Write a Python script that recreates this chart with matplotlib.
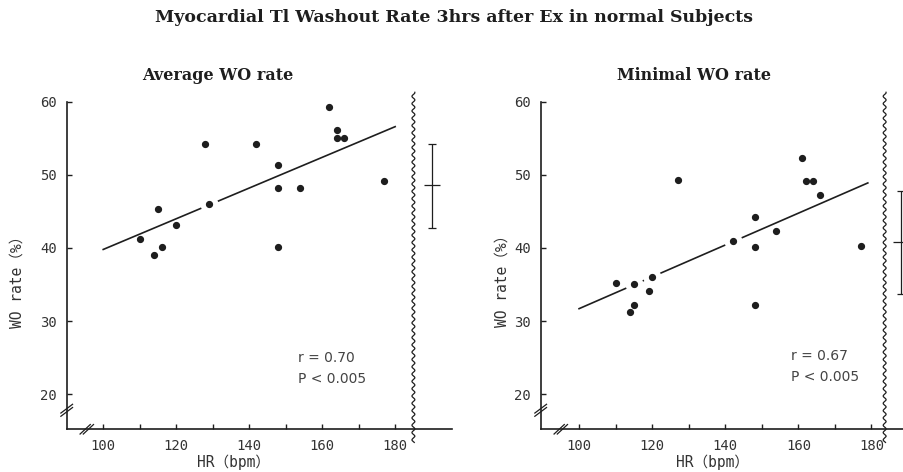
import numpy as np
import matplotlib
matplotlib.use("Agg")
import matplotlib.pyplot as plt

# ---------------- data ----------------
avg_hr = [110, 114, 115, 116, 120, 128, 129, 142, 148, 148, 148, 154, 162, 164, 164, 166, 177]
avg_wo = [41.2, 39.1, 45.3, 40.1, 43.2, 54.2, 46.0, 54.2, 51.3, 48.2, 40.2, 48.2, 59.3, 56.1, 55.1, 55.1, 49.1]
avg_fit_hr = [100, 180]
avg_fit_wo = [39.8, 56.6]
avg_stats = [48.6, 54.2, 42.7]  # mean, upper, lower

min_hr = [110, 114, 115, 115, 119, 120, 127, 142, 148, 148, 148, 154, 161, 162, 164, 166, 177]
min_wo = [35.2, 31.2, 32.2, 35.1, 34.1, 36.1, 49.3, 40.9, 44.2, 40.2, 32.2, 42.3, 52.3, 49.1, 49.1, 47.2, 40.3]
min_fit_hr = [100, 179]
min_fit_wo = [31.7, 48.9]
min_stats = [40.8, 47.8, 33.7]

x_major = [100, 120, 140, 160, 180]
x_minor = [110, 130, 150, 170]
y_ticks = [20, 30, 40, 50, 60]

title = "Myocardial Tl Washout Rate 3hrs after Ex in normal Subjects"
panel_titles = ["Average WO rate", "Minimal WO rate"]
stat_texts = [["r = 0.70", "P < 0.005"], ["r = 0.67", "P < 0.005"]]

INK = "#1e1e1e"
MONO = ["DejaVu Sans Mono", "Noto Sans CJK JP"]
SANS = ["DejaVu Sans", "Noto Sans CJK JP"]

fig = plt.figure(figsize=(9.04, 4.72), dpi=100)


def draw_panel(rect, xlim, hr, wo, fit_hr, fit_wo, stats, bar_x, wave_x, brk_x, txt_xy, idx):
    ax = fig.add_axes(rect)
    ylim = (15.2, 62)
    ax.set_xlim(*xlim)
    ax.set_ylim(*ylim)
    for s in ["top", "right"]:
        ax.spines[s].set_visible(False)
    for s in ["left", "bottom"]:
        ax.spines[s].set_linewidth(1.2)
        ax.spines[s].set_color(INK)
    ax.spines["left"].set_bounds(ylim[0], 60)
    ax.set_xticks(x_major)
    ax.set_xticks(x_minor, minor=True)
    ax.set_yticks(y_ticks)
    ax.tick_params(which="both", direction="in", length=3.5, width=1, color=INK,
                   labelsize=10, labelcolor="#333333")
    ax.tick_params(axis="x", pad=7)
    ax.tick_params(axis="y", pad=7)
    for lab in ax.get_xticklabels() + ax.get_yticklabels():
        lab.set_family(MONO)
    ax.patch.set_alpha(0)

    # regression line
    ax.plot(fit_hr, fit_wo, color=INK, lw=1.2, zorder=2, clip_on=False)
    # white halos for points lying on the line
    slope = (fit_wo[1] - fit_wo[0]) / (fit_hr[1] - fit_hr[0])
    on = [(x, y) for x, y in zip(hr, wo) if abs(y - (fit_wo[0] + slope * (x - fit_hr[0]))) < 0.5]
    if on:
        ax.plot([p[0] for p in on], [p[1] for p in on], "o", ms=12, color="white", zorder=3, clip_on=False)
    ax.plot(hr, wo, "o", ms=4.2, color=INK, zorder=4, clip_on=False)

    # mean +/- SD bar
    mean, up, lo = stats
    ax.errorbar([bar_x], [mean], yerr=[[mean - lo], [up - mean]], fmt="none",
                ecolor=INK, elinewidth=0.9, capsize=2.6, capthick=0.9, clip_on=False)
    ax.plot([bar_x], [mean], marker="_", ms=11, mew=0.9, color=INK, clip_on=False)

    # wavy break line
    ys = np.linspace(13.4, 61.3, 600)
    ax.plot(wave_x + 0.4 * np.sin(2 * np.pi * ys / 1.0), ys, color=INK, lw=0.9, clip_on=False)

    # axis break marks
    for d in (-0.22, 0.22):
        ax.plot([xlim[0] - 1.6, xlim[0] + 1.6], [17.8 - 0.6 + d, 17.8 + 0.6 + d], color=INK, lw=0.9, clip_on=False)
        ax.plot([brk_x - 1.4 + 2 * d, brk_x + 1.4 + 2 * d], [ylim[0] - 0.65, ylim[0] + 0.65], color=INK, lw=0.9, clip_on=False)

    ax.text(txt_xy[0], txt_xy[1], stat_texts[idx][0], family=SANS, fontsize=10, color="#444444",
            va="center", ha="left")
    ax.text(txt_xy[0], txt_xy[1] - 2.85, stat_texts[idx][1], family=SANS, fontsize=10, color="#444444",
            va="center", ha="left")
    return ax


axL = draw_panel([0.0738, 0.0905, 0.4259, 0.7248], (90, 195.5), avg_hr, avg_wo, avg_fit_hr, avg_fit_wo,
                 avg_stats, 190, 185, 95.5, (153.4, 24.9), 0)
axR = draw_panel([0.5981, 0.0905, 0.4286, 0.7248], (89.5, 195.5), min_hr, min_wo, min_fit_hr, min_fit_wo,
                 min_stats, 188.2, 183.6, 95.0, (157.9, 25.2), 1)

fig.text(454 / 904, 1 - 17 / 472, title, ha="center", va="center", fontsize=12.5,
         family="DejaVu Serif", weight="bold", color=INK)
fig.text(218 / 904, 1 - 75 / 472, panel_titles[0], ha="center", va="center", fontsize=11.5,
         family="DejaVu Serif", weight="bold", color=INK)
fig.text(694 / 904, 1 - 75 / 472, panel_titles[1], ha="center", va="center", fontsize=11.5,
         family="DejaVu Serif", weight="bold", color=INK)

for x, y in [(16.7 / 904, 1 - 278 / 472), (501.7 / 904, 1 - 277 / 472)]:
    fig.text(x, y, "WO rate（%）", rotation=90, ha="center", va="center", fontsize=10.5,
             family=MONO, color="#333333")
for x in [234 / 904, 713 / 904]:
    fig.text(x, 2 / 472, "HR（bpm）", ha="center", va="bottom", fontsize=10.5,
             family=MONO, color="#333333")

fig.savefig("out.png", dpi=100)
